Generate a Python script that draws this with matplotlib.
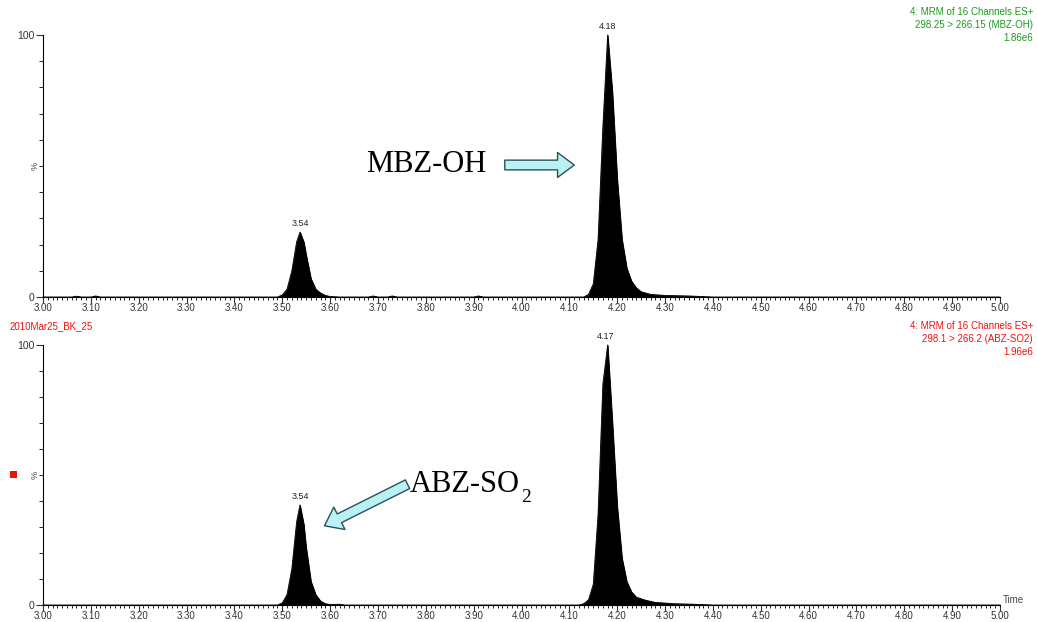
import matplotlib
matplotlib.use("Agg")
import matplotlib.pyplot as plt
from matplotlib.patches import FancyArrowPatch
from matplotlib.ticker import MultipleLocator, FixedLocator

top_t = [3.00, 3.06, 3.07, 3.08, 3.10, 3.11, 3.12, 3.30, 3.49, 3.50, 3.51, 3.52, 3.53, 3.537, 3.545,
         3.55, 3.56, 3.57, 3.58, 3.59, 3.60, 3.62, 3.68, 3.69, 3.70, 3.72, 3.73, 3.74, 3.90, 3.91, 3.92,
         4.13, 4.14, 4.15, 4.16, 4.17, 4.18, 4.19, 4.20, 4.21, 4.22, 4.23, 4.24, 4.25, 4.27, 4.30,
         4.35, 4.40, 4.50, 5.00]
top_y = [0.0, 0.0, 0.3, 0.0, 0.0, 0.4, 0.0, 0.0, 0.0, 0.8, 3.0, 10.0, 21.0, 24.8, 21.0,
         16.0, 7.0, 3.0, 1.5, 0.6, 0.2, 0.0, 0.0, 0.4, 0.0, 0.0, 0.4, 0.0, 0.0, 0.4, 0.0,
         0.0, 1.0, 5.0, 22.0, 65.0, 100.0, 78.0, 45.0, 22.0, 11.0, 6.0, 3.5, 2.0, 1.0, 0.6,
         0.4, 0.0, 0.0, 0.0]

# bottom channel, ABZ-SO2
bot_t = [3.00, 3.49, 3.50, 3.51, 3.52, 3.53, 3.537, 3.545, 3.55, 3.56, 3.57, 3.58, 3.59, 3.60,
         3.62, 3.63, 4.12, 4.13, 4.14, 4.15, 4.16, 4.17, 4.18, 4.19, 4.20, 4.21, 4.22, 4.23, 4.24,
         4.26, 4.28, 4.32, 4.36, 4.40, 5.00]
bot_y = [0.0, 0.0, 0.8, 4.0, 14.0, 32.0, 38.5, 31.0, 22.0, 9.0, 4.0, 1.5, 0.5, 0.2,
         0.3, 0.0, 0.0, 0.5, 2.0, 8.0, 35.0, 85.0, 100.0, 70.0, 38.0, 18.0, 9.0, 5.0, 3.0,
         1.8, 1.0, 0.5, 0.3, 0.0, 0.0]

top_peaks = [(3.537, 24.8, "3.54"), (4.18, 100.0, "4.18")]
bot_peaks = [(3.537, 38.5, "3.54"), (4.175, 100.0, "4.17")]

top_head = ["4: MRM of 16 Channels ES+", "298.25 > 266.15 (MBZ-OH)", "1.86e6"]
bot_head = ["4: MRM of 16 Channels ES+", "298.1 > 266.2 (ABZ-SO2)", "1.96e6"]
sample = "2010Mar25_BK_25"

plt.rcParams["font.family"] = ["Liberation Sans", "DejaVu Sans"]
fig = plt.figure(figsize=(10.37, 6.22), dpi=100)
W, H = 1037, 622
SERIF = ["Liberation Serif", "DejaVu Serif"]

def setup(ax, t, y, peaks, last):
    ax.fill_between(t, 0, y, color="black", lw=0.6, clip_on=False)
    ax.plot(t, y, color="black", lw=0.6, clip_on=False)
    ax.set_xlim(3.0, 5.0); ax.set_ylim(0, 100)
    for s in ["top", "right"]:
        ax.spines[s].set_visible(False)
    for s in ["left", "bottom"]:
        ax.spines[s].set_linewidth(0.8)
    ax.xaxis.set_major_locator(MultipleLocator(0.1))
    ax.xaxis.set_minor_locator(MultipleLocator(0.01))
    ax.xaxis.set_major_formatter(plt.FuncFormatter(lambda v, p: f"{v:.2f}"))
    ax.yaxis.set_major_locator(FixedLocator([0, 100]))
    ax.yaxis.set_minor_locator(FixedLocator(range(10, 100, 10)))
    ax.tick_params(axis="x", which="major", length=4, width=0.8, labelsize=7, pad=0.5, colors="#333333")
    ax.tick_params(axis="x", which="minor", length=2.5, width=0.6)
    ax.tick_params(axis="y", which="major", length=5, width=0.8, labelsize=7.5, pad=1, colors="#333333")
    ax.tick_params(axis="y", which="minor", length=3, width=0.6)
    ax.text(-0.004, 0.5, "%", transform=ax.transAxes, rotation=90, fontsize=6.5,
            ha="right", va="center", color="#444444")
    for x, h, lab in peaks:
        ax.text(x, h + 1.5, lab, ha="center", va="bottom", fontsize=6.5, color="#222222")
    if last:
        ax.text(1.003, 0.0, "Time", transform=ax.transAxes, fontsize=7, ha="left",
                va="bottom", color="#444444")

ax1 = fig.add_axes([43 / W, 1 - 297 / H, 957 / W, 262 / H])
ax2 = fig.add_axes([43 / W, 1 - 605 / H, 957 / W, 260 / H])
setup(ax1, top_t, top_y, top_peaks, False)
setup(ax2, bot_t, bot_y, bot_peaks, True)

green = "#1f9a1f"; red = "#ee1111"
for i, s in enumerate(top_head):
    fig.text(1033 / W, 1 - (12 + 13 * i) / H, s, color=green, fontsize=7, ha="right", va="center")
for i, s in enumerate(bot_head):
    fig.text(1033 / W, 1 - (326 + 13 * i) / H, s, color=red, fontsize=7, ha="right", va="center")
fig.text(10 / W, 1 - 326 / H, sample, color=red, fontsize=7, ha="left", va="center")
fig.patches.append(plt.Rectangle((10 / W, 1 - 478 / H), 7 / W, 7 / H, transform=fig.transFigure,
                                 facecolor=red, edgecolor="none"))

# annotations
fig.text(366 / W, 1 - 165 / H, "MBZ-OH", family=SERIF, fontsize=22, ha="left", va="center")
abz = fig.text(410 / W, 1 - 485 / H, "ABZ-SO", family=SERIF, fontsize=22, ha="left", va="center")
fig.canvas.draw()
x_end = abz.get_window_extent().x1 / W
fig.text(x_end + 1 / W, 1 - 497 / H, "2", family=SERIF, fontsize=14, ha="left", va="center")

style = "simple,head_length=12,head_width=18,tail_width=7"
for (x0, y0), (x1, y1) in [((502, 165), (577, 165)), ((410, 483), (322, 527))]:
    a = FancyArrowPatch((x0 / W, 1 - y0 / H), (x1 / W, 1 - y1 / H), transform=fig.transFigure,
                        arrowstyle=style, facecolor="#b8f2f2", edgecolor="#2f4f5a", lw=1.0)
    fig.patches.append(a)

fig.savefig("out.png", dpi=100)
